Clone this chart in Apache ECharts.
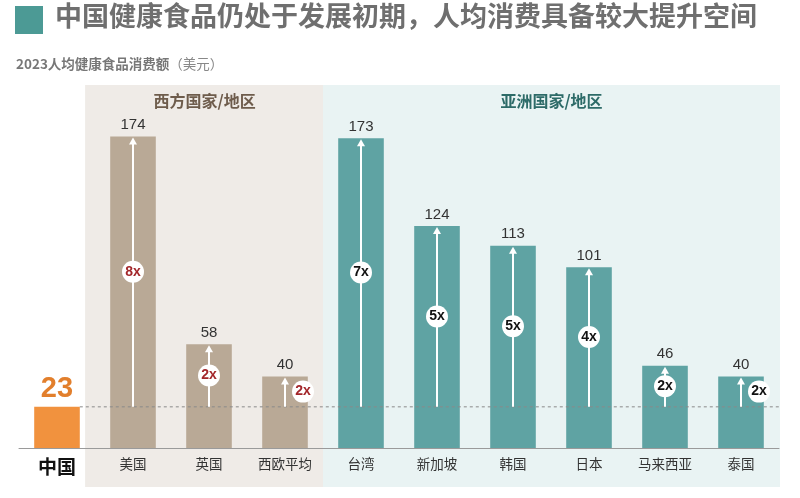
<!DOCTYPE html>
<html>
<head>
<meta charset="utf-8">
<script src="https://cdn.jsdelivr.net/npm/echarts@6/dist/echarts.min.js"></script>
<style>html,body{margin:0;padding:0;background:#fff;}#c{width:800px;height:498px;}</style>
</head>
<body>
<div id="c"></div>
<script>
const categories = ['中国','美国','英国','西欧平均','台湾','新加坡','韩国','日本','马来西亚','泰国'];
const values = [23,174,58,40,173,124,113,101,46,40];
const multipliers = ['', '8x','2x','2x','7x','5x','5x','4x','2x','2x'];
const regionOf = ['cn','west','west','west','asia','asia','asia','asia','asia','asia'];
const regions = [
  {name:'西方国家/地区', start:1, end:3, key:'west'},
  {name:'亚洲国家/地区', start:4, end:9, key:'asia'}
];
const baseValue = values[0];

const FONT = '"Noto Sans CJK SC","Noto Sans",sans-serif';
const NUMFONT = '"Liberation Sans",Arial,sans-serif';
const barColors = {cn:'#f1923e', west:'#b9a996', asia:'#5fa3a3'};
const panelColors = {west:'#efebe7', asia:'#e9f3f3'};
const headerColors = {west:'#6e5c4c', asia:'#2d6b68'};
const badgeColors = {west:'#a3262a', asia:'#111111'};

const chart = echarts.init(document.getElementById('c'));

const option = {
  backgroundColor:'#ffffff',
  animation:false,
  textStyle:{fontFamily:FONT},
  graphic:[
    {type:'rect', left:15, top:6, shape:{width:28, height:28}, style:{fill:'#4c9a95'}},
    {type:'text', left:55, top:2, style:{text:'中国健康食品仍处于发展初期，人均消费具备较大提升空间', fontSize:27, fontWeight:'bold', fill:'#6f6f6f', fontFamily:FONT}},
    {type:'text', left:16, top:57, style:{text:'{b|2023人均健康食品消费额}{n|（美元）}', rich:{b:{fontSize:13.5, fontWeight:'bold', fill:'#777', fontFamily:FONT}, n:{fontSize:13.5, fill:'#888', fontFamily:FONT}}}}
  ],
  grid:{left:19, right:21, top:90, bottom:50},
  xAxis:{
    type:'category', data:categories,
    axisTick:{show:false},
    axisLine:{lineStyle:{color:'#9a9a9a', width:1}},
    axisLabel:{
      margin:9, fontSize:13.5, color:'#333', fontFamily:FONT,
      formatter:(v,i)=> i===0 ? '{cn|'+v+'}' : v,
      rich:{cn:{fontSize:19, fontWeight:'bold', color:'#111', fontFamily:FONT}}
    }
  },
  yAxis:{type:'value', min:0, max:200, show:false, splitLine:{show:false}},
  series:[
    {
      type:'custom', z:0, silent:true, clip:false,
      data: regions.map((r,i)=>[r.start, r.end, i]),
      renderItem:(params, api)=>{
        const r = regions[params.dataIndex];
        const band = api.size([1,0])[0];
        const p1 = api.coord([r.start, 0]);
        const p2 = api.coord([r.end, 0]);
        const left = r.key==='west' ? p1[0]-band*0.63 : p1[0]-band*0.5;
        const right = p2[0]+band*0.5+1;
        const top = 85, bottom = 487;
        return {type:'group', children:[
          {type:'rect', shape:{x:left, y:top, width:right-left, height:bottom-top}, style:{fill:panelColors[r.key]}},
          {type:'text', x:(left+right)/2, y:101, style:{text:r.name, fontSize:16, fontWeight:'bold', fill:headerColors[r.key], align:'center', verticalAlign:'middle', fontFamily:FONT}}
        ]};
      }
    },
    {
      type:'bar', z:2, barWidth:'60%',
      data: values.map((v,i)=> i===0 ? {
          value:v, itemStyle:{color:barColors.cn},
          label:{fontSize:29, fontWeight:'bold', color:'#e27f2c', distance:3}
        } : {value:v, itemStyle:{color:barColors[regionOf[i]]}}),
      label:{show:true, position:'top', fontSize:15, color:'#333', distance:4, fontFamily:NUMFONT}
    },
    {
      type:'custom', z:5, silent:true, clip:false,
      data: values.map((v,i)=>[i, v]),
      renderItem:(params, api)=>{
        const i = api.value(0), v = api.value(1);
        const cs = params.coordSys;
        const band = api.size([1,0])[0];
        const children = [];
        if (i===0) {
          const p = api.coord([0, baseValue]);
          children.push({type:'line', shape:{x1:p[0]+band*0.3, y1:p[1], x2:cs.x+cs.width+1, y2:p[1]},
            style:{stroke:'#8a8a8a', lineWidth:1, lineDash:[3,3]}});
          return {type:'group', children};
        }
        const b = api.coord([i, baseValue]);
        const t = api.coord([i, v]);
        const x = b[0];
        children.push({type:'line', shape:{x1:x, y1:b[1], x2:x, y2:t[1]+6}, style:{stroke:'#fff', lineWidth:2}});
        children.push({type:'polygon', shape:{points:[[x, t[1]+1],[x-4, t[1]+8],[x+4, t[1]+8]]}, style:{fill:'#fff'}});
        const short = (v - baseValue) < 20;
        const cx = short ? x+18 : x;
        const cy = (b[1]+t[1])/2;
        children.push({type:'circle', shape:{cx, cy, r:11}, style:{fill:'#fff'}});
        children.push({type:'text', x:cx, y:cy, style:{text:multipliers[i], fontSize:14, fontWeight:'bold', fill:badgeColors[regionOf[i]], align:'center', verticalAlign:'middle', fontFamily:NUMFONT}});
        return {type:'group', children};
      }
    }
  ]
};
chart.setOption(option);
</script>
</body>
</html>
